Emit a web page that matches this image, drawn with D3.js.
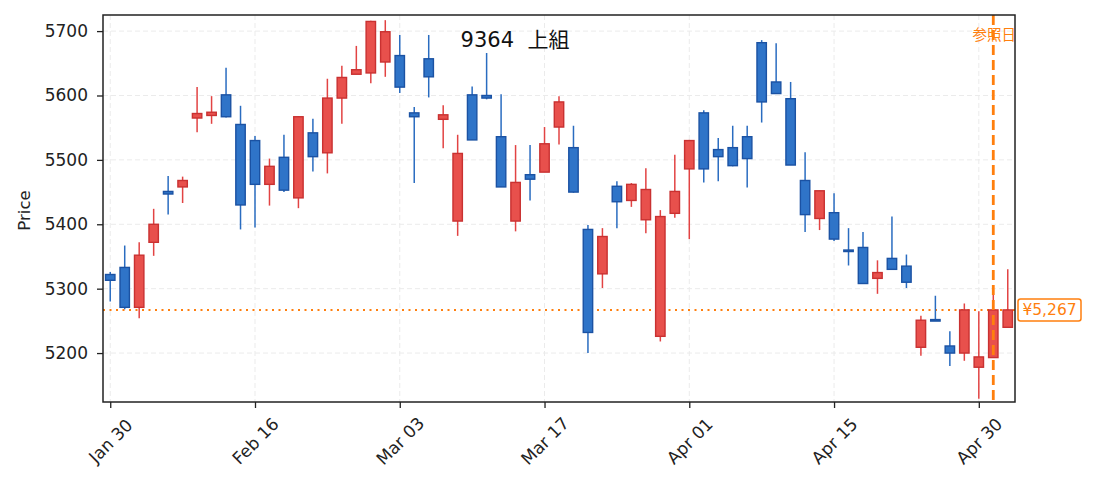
<!DOCTYPE html>
<html>
<head>
<meta charset="utf-8">
<script src="https://cdn.jsdelivr.net/npm/d3@7"></script>
<style>
    body { margin: 0; background: #fff; }
    svg { display: block; font-family: "DejaVu Sans", "Noto Sans CJK JP", sans-serif; }
    .grid line { stroke: #ebebeb; stroke-dasharray: 5,3; }
    .axis path, .axis line { stroke: #222; stroke-width: 1.3; }
</style>
</head>
<body>
<svg id="chart" width="1093" height="490"></svg>
<script>
    // trading days (2026), one candle each
    const dates = ["2026-01-30","2026-02-02","2026-02-03","2026-02-04","2026-02-05","2026-02-06","2026-02-09","2026-02-10",
        "2026-02-12","2026-02-13","2026-02-16","2026-02-17","2026-02-18","2026-02-19","2026-02-20","2026-02-24",
        "2026-02-25","2026-02-26","2026-02-27","2026-03-02","2026-03-03","2026-03-04","2026-03-05","2026-03-06",
        "2026-03-09","2026-03-10","2026-03-11","2026-03-12","2026-03-13","2026-03-16","2026-03-17","2026-03-18",
        "2026-03-19","2026-03-23","2026-03-24","2026-03-25","2026-03-26","2026-03-27","2026-03-30","2026-03-31",
        "2026-04-01","2026-04-02","2026-04-03","2026-04-06","2026-04-07","2026-04-08","2026-04-09","2026-04-10",
        "2026-04-13","2026-04-14","2026-04-15","2026-04-16","2026-04-17","2026-04-20","2026-04-21","2026-04-22",
        "2026-04-23","2026-04-24","2026-04-27","2026-04-28","2026-04-30","2026-05-01","2026-05-07"];
    const opens  = [5322,5333,5271,5372,5451,5458,5565,5569,5601,5555,5530,5462,5504,5441,5542,5511,
                    5596,5633,5635,5652,5662,5573,5657,5563,5405,5601,5600,5536,5405,5477,5481,5551,
                    5519,5392,5323,5459,5437,5407,5226,5417,5486,5573,5516,5519,5536,5682,5621,5595,
                    5468,5409,5418,5360,5364,5316,5347,5335,5209,5252,5211,5200,5178,5193,5240];
    const highs  = [5326,5367,5372,5424,5475,5474,5613,5599,5643,5584,5537,5502,5539,5568,5564,5626,
                    5646,5677,5716,5717,5694,5582,5694,5585,5539,5614,5666,5602,5523,5523,5551,5599,
                    5553,5399,5394,5467,5464,5487,5422,5508,5531,5577,5534,5553,5553,5686,5681,5621,
                    5512,5452,5448,5394,5388,5344,5412,5353,5258,5289,5234,5277,5265,5292,5330];
    const lows   = [5280,5268,5254,5351,5415,5433,5543,5556,5566,5392,5395,5429,5450,5425,5482,5479,
                    5556,5633,5619,5629,5604,5464,5597,5518,5382,5531,5594,5458,5389,5437,5481,5524,
                    5449,5200,5301,5394,5427,5386,5218,5410,5377,5465,5467,5490,5457,5558,5603,5492,
                    5388,5391,5374,5336,5308,5292,5330,5301,5196,5251,5180,5188,5129,5193,5240];
    const closes = [5313,5271,5352,5400,5447,5468,5572,5574,5567,5430,5462,5490,5453,5567,5505,5596,
                    5628,5640,5715,5699,5613,5567,5629,5570,5510,5531,5596,5458,5465,5470,5525,5590,
                    5450,5232,5381,5435,5462,5454,5412,5451,5530,5486,5505,5491,5502,5590,5603,5492,
                    5415,5452,5377,5359,5308,5325,5330,5310,5251,5251,5200,5267,5194,5267,5267];
    const yTicks = [5200, 5300, 5400, 5500, 5600, 5700];
    const xTickIdx = [0, 10, 20, 30, 40, 50, 60];
    const refIdx = 61;
    const refPrice = 5267;
    const title = "9364\u00a0\u00a0上組";

    const margin = {top: 15, right: 78, bottom: 88, left: 103};
    const width = 1093 - margin.left - margin.right;
    const height = 490 - margin.top - margin.bottom;
    const FONT = '"DejaVu Sans", "Noto Sans CJK JP", sans-serif';

    const parse = d3.timeParse("%Y-%m-%d");
    const fmt = d3.timeFormat("%b %d");

    const x = d3.scaleLinear().domain([-0.5, dates.length - 0.5]).range([0, width]);
    const y = d3.scaleLinear().domain([5124, 5725]).range([height, 0]);

    const svg = d3.select("#chart");
    const chart = svg.append("g").attr("transform", "translate(" + margin.left + "," + margin.top + ")");

    // grid
    const grid = chart.append("g").attr("class", "grid");
    grid.selectAll(".gy").data(yTicks).enter().append("line")
        .attr("x1", 0).attr("x2", width)
        .attr("y1", d => y(d)).attr("y2", d => y(d));
    grid.selectAll(".gx").data(xTickIdx).enter().append("line")
        .attr("y1", 0).attr("y2", height)
        .attr("x1", d => x(d)).attr("x2", d => x(d));

    // reference price line (dotted)
    chart.append("line")
        .attr("x1", 0).attr("x2", width)
        .attr("y1", y(refPrice)).attr("y2", y(refPrice))
        .attr("stroke", "#ff7f0e").attr("stroke-width", 2)
        .attr("stroke-dasharray", "2,4.5");

    // candles
    const bw = x(0.65) - x(0);
    const candles = chart.append("g").selectAll("g").data(dates).enter().append("g");
    const isUp = i => closes[i] >= opens[i];
    candles.append("line")
        .attr("x1", (d, i) => x(i)).attr("x2", (d, i) => x(i))
        .attr("y1", (d, i) => y(highs[i])).attr("y2", (d, i) => y(lows[i]))
        .attr("stroke", (d, i) => isUp(i) ? "#e24343" : "#2a6cc0")
        .attr("stroke-width", 1.5);
    candles.append("rect")
        .attr("x", (d, i) => x(i) - bw / 2)
        .attr("width", bw)
        .attr("y", (d, i) => y(Math.max(opens[i], closes[i])))
        .attr("height", (d, i) => Math.max(1.5, Math.abs(y(opens[i]) - y(closes[i]))))
        .attr("fill", (d, i) => isUp(i) ? "#e8504c" : "#2f74c8")
        .attr("stroke", (d, i) => isUp(i) ? "#c93131" : "#1b52a3")
        .attr("stroke-width", 1.4);

    // reference date line
    chart.append("line")
        .attr("x1", x(refIdx)).attr("x2", x(refIdx))
        .attr("y1", 0).attr("y2", height)
        .attr("stroke", "#ff7f0e").attr("stroke-width", 2.8)
        .attr("stroke-dasharray", "10,5");
    chart.append("text")
        .attr("x", width + 1).attr("y", 25)
        .attr("text-anchor", "end")
        .attr("fill", "#ff7f0e").attr("font-size", 14.5)
        .text("参照日");

    // title
    chart.append("text")
        .attr("x", 412).attr("y", 32)
        .attr("text-anchor", "middle")
        .attr("fill", "#111").attr("font-size", 21)
        .text(title);

    // axes
    chart.append("g").attr("class", "y axis")
        .call(d3.axisLeft(y).tickValues(yTicks).tickSize(6).tickPadding(9).tickFormat(d3.format("d")));
    const xAxis = chart.append("g").attr("class", "x axis")
        .attr("transform", "translate(0," + height + ")")
        .call(d3.axisBottom(x).tickValues(xTickIdx).tickSize(6).tickFormat(i => fmt(parse(dates[i]))));
    chart.selectAll(".axis").attr("font-size", 17).attr("font-family", FONT);
    chart.selectAll(".axis text").attr("fill", "#222");
    xAxis.selectAll("text")
        .attr("y", 0).attr("dy", "0.35em")
        .attr("text-anchor", "middle")
        .attr("transform", "translate(0,39) rotate(-45)");
    chart.selectAll(".axis .domain").remove();

    // frame
    chart.append("rect")
        .attr("width", width).attr("height", height)
        .attr("fill", "none").attr("stroke", "#222").attr("stroke-width", 1.5);

    // y title
    chart.append("text")
        .attr("transform", "translate(" + (-79) + "," + (height / 2 + 2) + ") rotate(-90)")
        .attr("text-anchor", "middle").attr("dy", "0.35em")
        .attr("fill", "#222").attr("font-size", 16.5)
        .text("Price");

    // price tag
    const tag = chart.append("g").attr("transform", "translate(" + (width + 3) + "," + y(refPrice) + ")");
    tag.append("rect")
        .attr("x", 0).attr("y", -11).attr("width", 63).attr("height", 22).attr("rx", 2.5)
        .attr("fill", "#fff").attr("stroke", "#ff7f0e").attr("stroke-width", 1.5);
    tag.append("text")
        .attr("x", 31.5).attr("y", 0).attr("dy", "0.35em")
        .attr("text-anchor", "middle")
        .attr("fill", "#ff7f0e").attr("font-size", 15.5)
        .text("¥" + d3.format(",")(refPrice));
</script>
</body>
</html>
